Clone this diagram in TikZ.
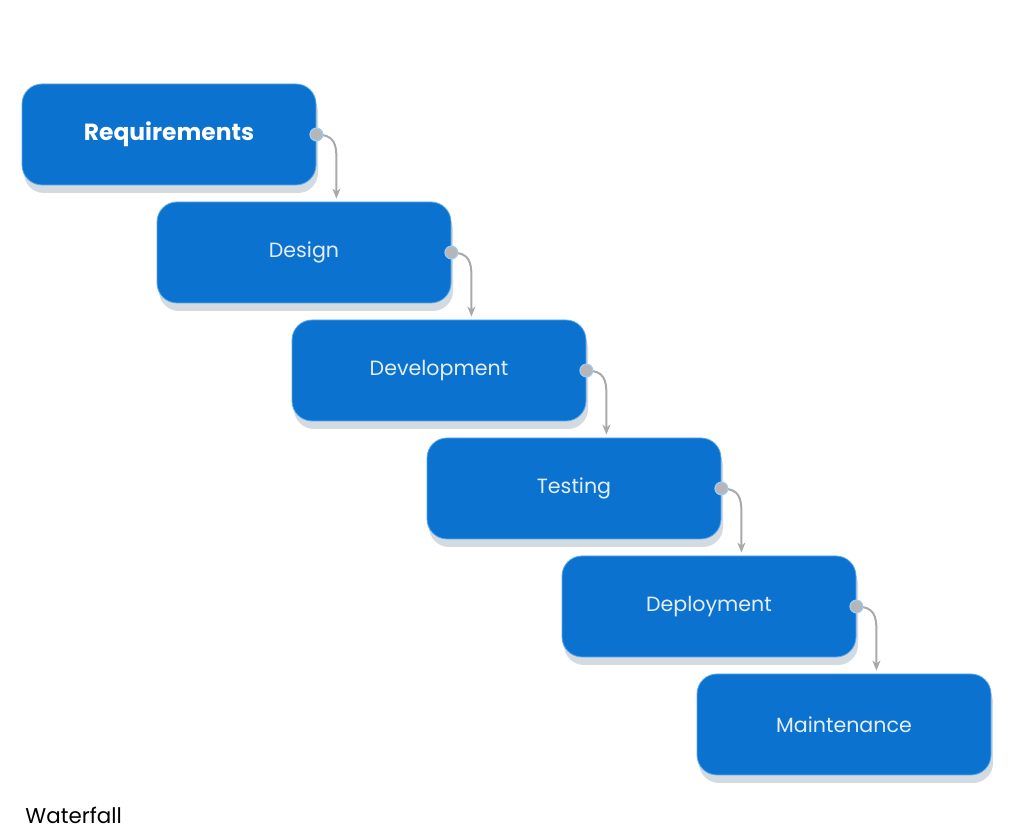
\documentclass[tikz,border=0pt]{standalone}
\usepackage{fontspec}
\setmainfont{Poppins}
\usetikzlibrary{positioning, arrows.meta, calc, shadows}

\definecolor{phaseblue}{HTML}{0B72D0}
\definecolor{phaseedge}{HTML}{5AAAF0}
\definecolor{phasetext}{HTML}{E3EEF9}
\definecolor{shadowgray}{HTML}{D3DBE0}
\definecolor{linkgray}{HTML}{A9A9A9}

\tikzset{
  phase/.style={rounded corners=10pt, fill=phaseblue, draw=phaseedge, line width=0.4pt,
    minimum width=147pt, minimum height=50.5pt, text=phasetext,
    font=\fontsize{10.3}{12}\selectfont,
    drop shadow={shadow xshift=1pt, shadow yshift=-4pt, fill=shadowgray, opacity=1}},
  link/.style={draw=linkgray, line width=1pt, shorten >=1.5pt,
    -{Stealth[length=5pt, width=4pt, inset=1.5pt]}},
  dot/.style={fill=linkgray!85, draw=phaseedge!60, line width=0.6pt}
}

\begin{document}
\begin{tikzpicture}[x=0.5pt, y=-0.5pt]

  % --- MOLDURA (pixels da referência) ---
  \useasboundingbox (0,0) rectangle (1024,838);

  % --- FASES EM CASCATA ---
  % Cada fase desloca 135 px para a direita e 118 px para baixo
  \def\dx{135}
  \def\dy{118}

  \node[phase, text=white, font=\bfseries\fontsize{11.7}{14}\selectfont] (ph0) at (169, 134.5) {Requirements};

  \foreach \txt [count=\i] in {Design, Development, Testing, Deployment, Maintenance} {
    \node[phase] (ph\i) at (169+\i*\dx, 134.5+\i*\dy) {\txt};
  }

  % --- CONEXÕES ENTRE FASES ---
  \foreach \i in {0,...,4} {
    \pgfmathtruncatemacro{\j}{\i+1}
    \coordinate (k\i) at ($(ph\i.east)+(20,0)$);
    \draw[link] (ph\i.east) .. controls +(18,0) and +(0,-14) .. ($(k\i)+(0,24)$) -- (k\i |- ph\j.north);
    % ponto de saída
    \draw[dot] (ph\i.east) circle (3.2pt);
  }

  % --- TÍTULO ---
  \node[anchor=west, font=\fontsize{10.7}{12}\selectfont, inner sep=0pt] (title) at (25, 815) {Waterfall};

\end{tikzpicture}
\end{document}
